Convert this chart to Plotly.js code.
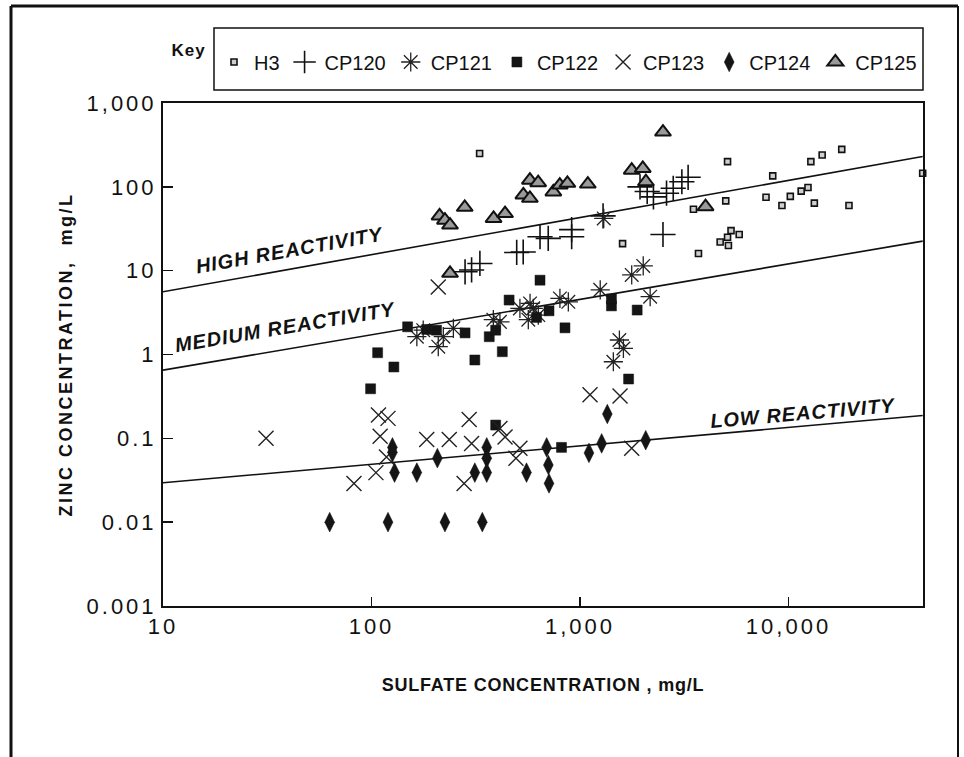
<!DOCTYPE html>
<html>
<head>
<meta charset="utf-8">
<script src="https://cdn.plot.ly/plotly-3.0.1.min.js"></script>
<style>
  html, body { margin: 0; padding: 0; background: #fff; }
  #chart { width: 964px; height: 757px; }
  #chart g.xtick text, #chart g.ytick text { letter-spacing: 3px; }
  #chart text.xtitle { letter-spacing: 0.8px; }
  #chart text.ytitle { letter-spacing: 2.5px; }
  #chart text.annotation-text { letter-spacing: 1px; }
</style>
</head>
<body>
<div id="chart"></div>
<script>
// ---- data ----
const H3_x = [330, 1600, 3500, 3700, 4700, 5000, 5100, 5100, 5150, 5300, 5800, 7800, 8400, 9300, 10200, 11500, 12400, 12800, 13300, 14500, 18000, 19500, 44000];
const H3_y = [250, 21, 54, 16, 22, 68, 200, 25, 20, 30, 27, 75, 135, 60, 77, 89, 98, 200, 64, 240, 280, 60, 145];

const CP120_x = [281, 302, 331, 497, 534, 643, 704, 912, 912, 1290, 1940, 2100, 2250, 2600, 2800, 3080, 3300, 2500];
const CP120_y = [9.7, 10.2, 12.2, 16.5, 16.7, 25.4, 24.3, 30.9, 25.4, 45, 100, 88, 76, 84, 96, 115, 130, 27];

const CP121_x = [165, 177, 209, 221, 247, 384, 413, 515, 565, 576, 597, 631, 801, 879, 1250, 1300, 1445, 1545, 1615, 1770, 2010, 2170];
const CP121_y = [1.63, 1.95, 1.24, 1.63, 2.05, 2.6, 2.45, 3.55, 2.6, 4.07, 3.55, 2.95, 4.67, 4.25, 5.9, 42, 0.82, 1.49, 1.18, 8.9, 11.4, 4.9];

const CP122_x = [99, 107, 128, 149, 184, 205, 281, 313, 367, 394, 394, 424, 457, 619, 643, 710, 815, 847, 1415, 1415, 1710, 1880];
const CP122_y = [0.39, 1.05, 0.71, 2.14, 1.99, 1.95, 1.81, 0.86, 1.63, 1.95, 0.144, 1.08, 4.46, 2.77, 7.7, 3.32, 0.078, 2.08, 3.8, 4.6, 0.51, 3.39];

const CP123_x = [31.2, 82.4, 105, 108, 110, 118, 120, 184, 209, 236, 278, 294, 302, 413, 437, 493, 515, 1117, 1556, 1770];
const CP123_y = [0.1, 0.029, 0.039, 0.19, 0.106, 0.06, 0.173, 0.097, 6.4, 0.097, 0.029, 0.168, 0.087, 0.131, 0.104, 0.058, 0.076, 0.33, 0.32, 0.076];

const CP124_x = [63, 120, 225, 340, 126, 126, 129, 165, 207, 313, 357, 357, 357, 554, 692, 705, 710, 1104, 1270, 1352, 2066];
const CP124_y = [0.01, 0.01, 0.01, 0.01, 0.078, 0.068, 0.039, 0.039, 0.058, 0.039, 0.078, 0.058, 0.039, 0.039, 0.078, 0.048, 0.029, 0.067, 0.087, 0.195, 0.095];

const CP125_x = [212, 225, 238, 238, 280, 385, 437, 535, 575, 575, 630, 745, 800, 870, 1090, 1770, 2000, 2070, 2500, 4000];
const CP125_y = [45, 40, 35, 9.3, 57, 42, 48, 80, 73, 120, 112, 87, 105, 110, 108, 158, 166, 115, 450, 58];

// reactivity boundary lines
const LINE_x = [10, 44000];
const HIGH_y = [5.6, 230];
const MED_y = [0.65, 22.5];
const LOW_y = [0.0295, 0.187];

const X_TICKS = [10, 100, 1000, 10000];
const X_TICKTEXT = ['10', '100', '1,000', '10,000'];
const Y_TICKS = [0.001, 0.01, 0.1, 1, 10, 100, 1000];
const Y_TICKTEXT = ['0.001', '0.01', '0.1', '1', '10', '100', '1,000'];

// ---- styling ----
const FONT = 'Liberation Sans, Arial, Helvetica, sans-serif';
const INK = '#111';

function pts(name, x, y, marker) {
  return { type: 'scatter', mode: 'markers', name: name, x: x, y: y, marker: marker, cliponaxis: false, hoverinfo: 'skip' };
}
function bound(y) {
  return { type: 'scatter', mode: 'lines', x: LINE_x, y: y, showlegend: false,
           line: { color: INK, width: 1.6 }, hoverinfo: 'skip' };
}

const traces = [
  bound(HIGH_y), bound(MED_y), bound(LOW_y),
  pts('H3', H3_x, H3_y, { symbol: 'square', size: 6, color: '#cfcfcf', line: { color: INK, width: 1.6 } }),
  pts('CP120', CP120_x, CP120_y, { symbol: 'cross-thin-open', size: 18, color: INK, line: { color: INK, width: 1.6 } }),
  pts('CP121', CP121_x, CP121_y, { symbol: 'asterisk-open', size: 16, color: '#222', line: { color: '#222', width: 1.3 } }),
  pts('CP122', CP122_x, CP122_y, { symbol: 'square', size: 10, color: '#151515', line: { color: INK, width: 0.5 } }),
  pts('CP123', CP123_x, CP123_y, { symbol: 'x-thin-open', size: 15, color: '#222', line: { color: '#222', width: 1.4 } }),
  pts('CP124', CP124_x, CP124_y, { symbol: 'diamond-tall', size: 14, color: '#151515', line: { color: INK, width: 0.5 } }),
  pts('CP125', CP125_x, CP125_y, { symbol: 'triangle-up', size: 14, color: '#9a9a9a', line: { color: INK, width: 2 } })
];

// pixel -> paper helpers for decorations (plot area 163..923 x 103..606)
const L = 163, R = 923, T = 103, B = 606;
const px = p => (p - L) / (R - L);
const py = q => (B - q) / (B - T);

const layout = {
  width: 964, height: 757,
  margin: { l: L, r: 964 - R, t: T, b: 757 - B },
  paper_bgcolor: '#fff', plot_bgcolor: '#fff',
  font: { family: FONT, color: INK },
  showlegend: true,
  legend: {
    orientation: 'h', x: px(214), y: py(62), xanchor: 'left', yanchor: 'middle',
    font: { family: FONT, size: 20, color: INK }, bgcolor: 'rgba(0,0,0,0)', borderwidth: 0,
    itemwidth: 30, tracegroupgap: 0
  },
  xaxis: {
    type: 'log', range: [1, Math.log10(44157)],
    tickvals: X_TICKS, ticktext: X_TICKTEXT,
    ticks: 'inside', ticklen: 9, tickwidth: 1.5, tickcolor: INK,
    showline: true, linecolor: INK, linewidth: 2, mirror: true,
    showgrid: false, zeroline: false,
    tickfont: { family: FONT, size: 22, color: INK },
    title: { text: '<b>SULFATE CONCENTRATION , mg/L</b>', font: { family: FONT, size: 18, color: INK }, standoff: 40 }
  },
  yaxis: {
    type: 'log', range: [-3, 3],
    tickvals: Y_TICKS, ticktext: Y_TICKTEXT,
    ticks: 'inside', ticklen: 10, tickwidth: 1.5, tickcolor: INK,
    showline: true, linecolor: INK, linewidth: 2, mirror: true,
    showgrid: false, zeroline: false,
    tickfont: { family: FONT, size: 22, color: INK },
    title: { text: '<b>ZINC CONCENTRATION,  mg/L</b>', font: { family: FONT, size: 18, color: INK }, standoff: 24 }
  },
  shapes: [
    // key box
    { type: 'rect', xref: 'paper', yref: 'paper', x0: px(214), x1: px(923), y0: py(90), y1: py(28),
      line: { color: INK, width: 1.5 } },
    // outer frame (open at the bottom)
    { type: 'line', xref: 'paper', yref: 'paper', x0: px(11), x1: px(11), y0: py(757), y1: py(6), line: { color: INK, width: 3 } },
    { type: 'line', xref: 'paper', yref: 'paper', x0: px(11), x1: px(958), y0: py(6), y1: py(6), line: { color: INK, width: 3 } },
    { type: 'line', xref: 'paper', yref: 'paper', x0: px(958), x1: px(958), y0: py(6), y1: py(757), line: { color: INK, width: 2 } }
  ],
  annotations: [
    { xref: 'paper', yref: 'paper', x: px(189), y: py(50), xanchor: 'center', yanchor: 'middle',
      text: '<b>Key</b>', showarrow: false, font: { family: FONT, size: 17, color: INK } },
    { xref: 'x', yref: 'y', x: Math.log10(40.6), y: 1.246, text: '<b><i>HIGH REACTIVITY</i></b>', textangle: -10, showarrow: false,
      font: { family: FONT, size: 20, color: INK } },
    { xref: 'x', yref: 'y', x: Math.log10(38.5), y: 0.327, text: '<b><i>MEDIUM REACTIVITY</i></b>', textangle: -9.5, showarrow: false,
      font: { family: FONT, size: 20, color: INK } },
    { xref: 'x', yref: 'y', x: Math.log10(11750), y: -0.699, text: '<b><i>LOW REACTIVITY</i></b>', textangle: -5, showarrow: false,
      font: { family: FONT, size: 20, color: INK } }
  ]
};

Plotly.newPlot('chart', traces, layout, { displayModeBar: false, staticPlot: true });
</script>
</body>
</html>
